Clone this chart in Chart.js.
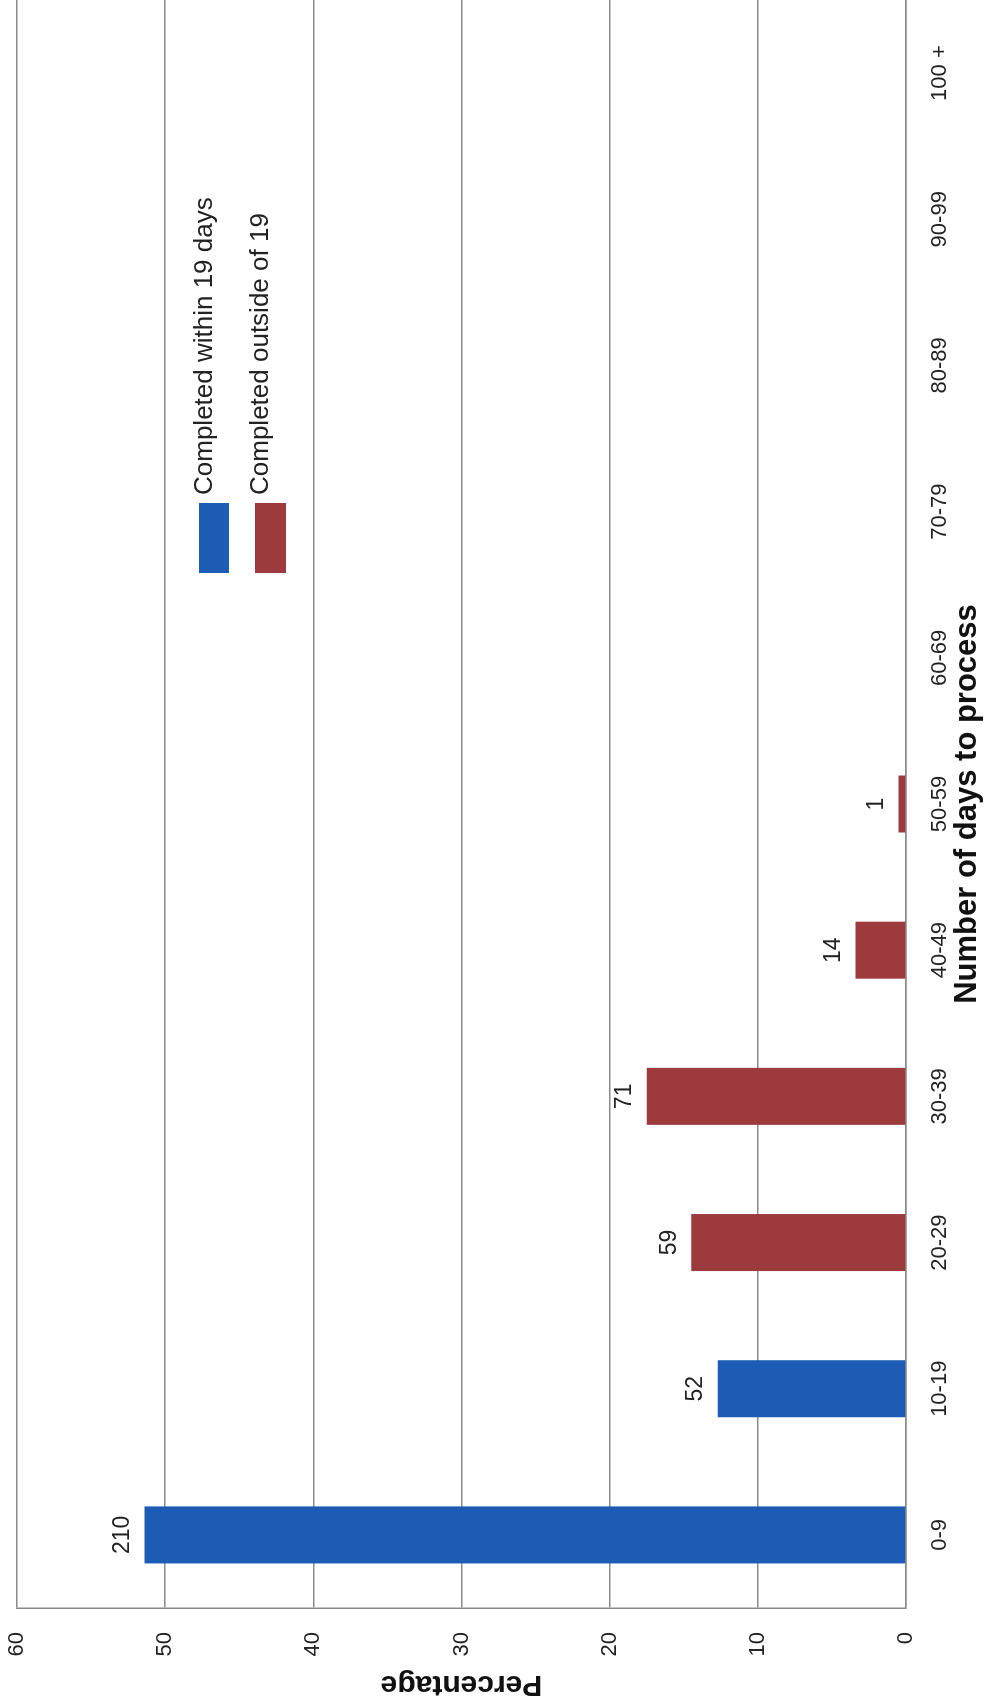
<!DOCTYPE html>
<html>
<head>
<meta charset="utf-8">
<script src="https://cdn.jsdelivr.net/npm/chart.js@4.4.0/dist/chart.umd.min.js"></script>
<style>
html,body{margin:0;padding:0;width:985px;height:1705px;overflow:hidden;background:#fff;}
#wrap{position:absolute;left:0;top:0;width:1705px;height:985px;transform-origin:0 0;transform:translateY(1705px) rotate(-90deg);}
canvas{display:block;}
</style>
</head>
<body>
<div id="wrap"><canvas id="c" width="1705" height="985"></canvas></div>
<script>
const categories = ['0-9', '10-19', '20-29', '30-39', '40-49', '50-59', '60-69', '70-79', '80-89', '90-99', '100 +'];
const seriesNames = ['Completed within 19 days', 'Completed outside of 19'];
const withinPct = [51.4, 12.7, null, null, null, null, null, null, null, null, null];
const outsidePct = [null, null, 14.5, 17.5, 3.4, 0.5, null, null, null, null, null];
const withinCounts = [210, 52, null, null, null, null, null, null, null, null, null];
const outsideCounts = [null, null, 59, 71, 14, 1, null, null, null, null, null];
const yMin = 0, yMax = 60, yStep = 10;
const xTitle = 'Number of days to process';
const yTitle = 'Percentage';

const FAMILY = '"Liberation Sans", Arial, sans-serif';
Chart.defaults.font.family = FAMILY;

const countLabels = {
  id: 'countLabels',
  afterDatasetsDraw(chart) {
    const c = chart.ctx;
    c.save();
    c.font = '23px ' + FAMILY;
    c.fillStyle = '#222';
    c.textAlign = 'center';
    c.textBaseline = 'middle';
    chart.data.datasets.forEach((ds, i) => {
      const meta = chart.getDatasetMeta(i);
      meta.data.forEach((bar, j) => {
        const n = ds.counts[j];
        if (n === null || n === undefined) return;
        c.fillText(String(n), bar.x, bar.y - 22);
      });
    });
    c.restore();
  }
};

const legendBox = {
  id: 'legendBox',
  afterDraw(chart) {
    const c = chart.ctx;
    const rows = [
      {bx: 1132, by: 199, bw: 70, bh: 30, tx: 1210, ty: 205},
      {bx: 1132, by: 255, bw: 70, bh: 31, tx: 1210, ty: 261}
    ];
    c.save();
    c.font = '26px ' + FAMILY;
    c.textAlign = 'left';
    c.textBaseline = 'middle';
    chart.data.datasets.forEach((ds, i) => {
      const r = rows[i];
      c.fillStyle = ds.backgroundColor;
      c.fillRect(r.bx, r.by, r.bw, r.bh);
      c.fillStyle = '#222';
      c.fillText(ds.label, r.tx, r.ty);
    });
    c.restore();
  }
};

new Chart(document.getElementById('c'), {
  type: 'bar',
  data: {
    labels: categories,
    datasets: [
      {label: seriesNames[0], data: withinPct, counts: withinCounts, backgroundColor: '#1d5cb4', grouped: false, barPercentage: 0.39, categoryPercentage: 1},
      {label: seriesNames[1], data: outsidePct, counts: outsideCounts, backgroundColor: '#9c3a3d', grouped: false, barPercentage: 0.39, categoryPercentage: 1}
    ]
  },
  options: {
    responsive: false,
    animation: false,
    devicePixelRatio: 1,
    layout: {padding: {top: 17, right: 0, left: 0, bottom: 0}},
    plugins: {legend: {display: false}, tooltip: {enabled: false}},
    scales: {
      x: {
        grid: {display: false, drawTicks: false},
        border: {display: true, color: '#8a8a8a', width: 1.5},
        ticks: {font: {size: 22}, color: '#222', padding: 21, maxRotation: 0, autoSkip: false},
        title: {display: true, text: xTitle, color: '#111', font: {size: 31, weight: 'bold', lineHeight: 1}, padding: {top: 0, bottom: 2}},
        afterFit(s) { s.height = 79; s.paddingLeft = 0; s.paddingRight = 0; }
      },
      y: {
        min: yMin, max: yMax,
        ticks: {stepSize: yStep, font: {size: 22}, color: '#222', padding: 24},
        grid: {color: '#8a8a8a', lineWidth: 1.5, drawTicks: false},
        border: {display: true, color: '#8a8a8a', width: 1.5},
        title: {display: true, text: yTitle, color: '#111', font: {size: 30, weight: 'bold', lineHeight: 1}, padding: {top: 6, bottom: 0}},
        afterFit(s) { s.width = 97; s.paddingTop = 0; s.paddingBottom = 0; }
      }
    }
  },
  plugins: [countLabels, legendBox]
});
</script>
</body>
</html>
